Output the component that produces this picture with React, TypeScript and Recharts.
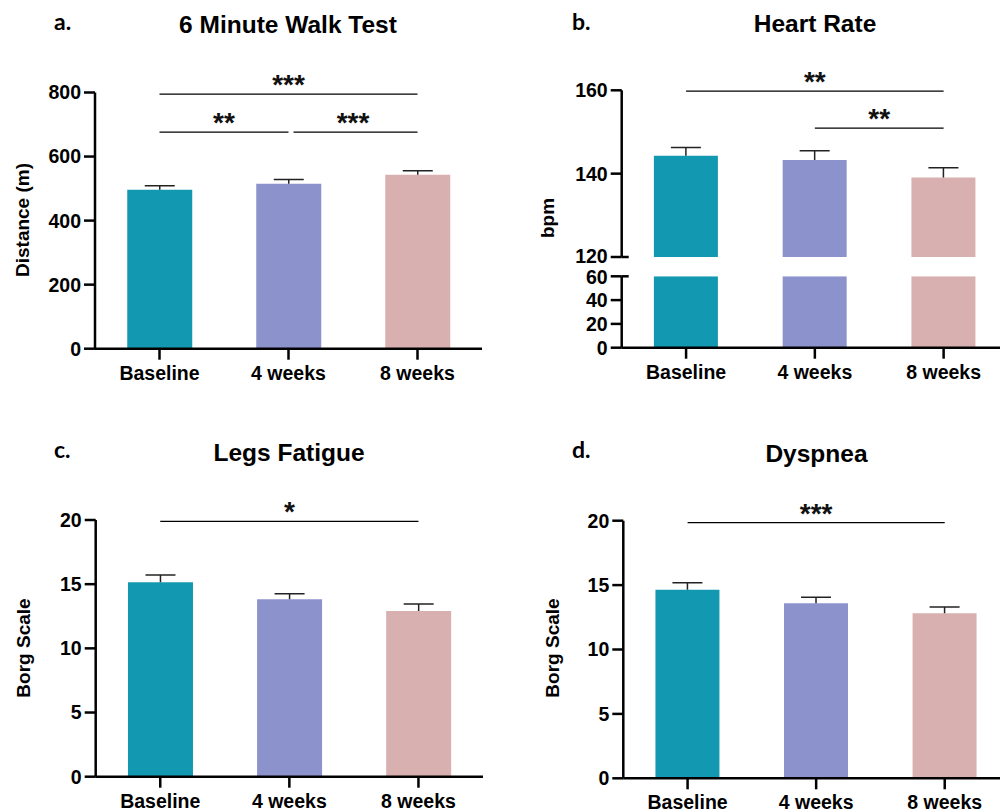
import React from 'react';
import { BarChart, Bar, XAxis, YAxis, ReferenceLine, Cell } from 'recharts';

const categories = ['Baseline', '4 weeks', '8 weeks'];
const colors = ['#1398B1', '#8B92CC', '#D8B0AF'];

const walkMean = [496, 515, 543];
const walkSem = [13, 13, 13];
const walkTicks = [0, 200, 400, 600, 800];

const hrMean = [144.3, 143.3, 139.1];
const hrSem = [2.0, 2.2, 2.3];
const hrUpperTicks = [120, 140, 160];
const hrLowerTicks = [0, 20, 40, 60];

const legsMean = [15.15, 13.82, 12.91];
const legsSem = [0.57, 0.44, 0.55];
const dyspMean = [14.64, 13.59, 12.81];
const dyspSem = [0.55, 0.46, 0.49];
const borgTicks = [0, 5, 10, 15, 20];

const walkBrackets = [
  { from: 'Baseline', to: '8 weeks', y: 795, label: '***', inset: 0 },
  { from: 'Baseline', to: '4 weeks', y: 676, label: '**', inset: 0 },
  { from: '4 weeks', to: '8 weeks', y: 676, label: '***', inset: 5 },
];
const hrBrackets = [
  { from: 'Baseline', to: '8 weeks', y: 159.8, label: '**', inset: 0 },
  { from: '4 weeks', to: '8 weeks', y: 150.9, label: '**', inset: 0 },
];
const legsBrackets = [{ from: 'Baseline', to: '8 weeks', y: 19.9, label: '*', inset: 0 }];
const dyspBrackets = [{ from: 'Baseline', to: '8 weeks', y: 19.85, label: '***', inset: 0 }];

const FONT = '"Liberation Sans", Arial, sans-serif';
const TICK_FS = 19.5;
const Y_W = 60;
const X_H = 40;

type Box = { left: number; top: number; width: number; height: number };
type Plot = { left: number; top: number; right: number; bottom: number };
type Bracket = { from: string; to: string; y: number; label: string; inset: number };

const buildData = (means: number[], sems: number[]) =>
  categories.map((name, i) => ({ name, mean: means[i], sem: sems[i] }));

const Whisker = (props: any) => {
  const { x, y, width, height } = props;
  if (x == null || y == null) return null;
  const cx = x + width / 2;
  return (
    <g stroke="#222" strokeWidth={1.5}>
      <line x1={cx} x2={cx} y1={y} y2={y + height} />
      <line x1={cx - 15} x2={cx + 15} y1={y} y2={y} />
    </g>
  );
};

const makeTick = (capValue: number | null, capShift: number, tickSize: number, tickMargin: number) => (props: any) => {
  const { x, y, payload } = props;
  const axisX = x + tickSize + tickMargin;
  const isCap = capValue !== null && payload.value === capValue;
  return (
    <g>
      <text
        x={x}
        y={y + (isCap ? capShift : 0)}
        dy="0.355em"
        textAnchor="end"
        fill="#000"
        fontSize={TICK_FS}
        fontWeight={700}
        fontFamily={FONT}
      >
        {payload.value}
      </text>
      {isCap ? <line x1={axisX} x2={axisX + 7} y1={y} y2={y} stroke="#000" strokeWidth={2.5} /> : null}
    </g>
  );
};

function marginsFor(box: Box, plot: Plot, showX: boolean) {
  return {
    left: plot.left - box.left - Y_W,
    top: plot.top - box.top,
    right: box.left + box.width - plot.right,
    bottom: box.top + box.height - plot.bottom - (showX ? X_H : 0),
  };
}

function BarPanel(props: {
  box: Box;
  plot: Plot;
  means: number[];
  sems: number[] | null;
  domain: [number, number];
  ticks: number[];
  brackets: Bracket[];
  showX: boolean;
  capValue: number | null;
  capShift: number;
}) {
  const { box, plot, means, sems, domain, ticks, brackets, showX, capValue, capShift } = props;
  const data = buildData(means, sems ?? means.map(() => 0));
  const tickSize = 11;
  const tickMargin = 3;
  return (
    <div style={{ position: 'absolute', left: box.left, top: box.top, width: box.width, height: box.height }}>
      <BarChart
        width={box.width}
        height={box.height}
        data={data}
        margin={marginsFor(box, plot, showX)}
        barCategoryGap="25%"
        style={{ overflow: 'visible' }}
      >
        <XAxis
          dataKey="name"
          hide={!showX}
          height={X_H}
          tickSize={11}
          tickMargin={6}
          axisLine={{ stroke: '#000', strokeWidth: 2.5 }}
          tickLine={{ stroke: '#000', strokeWidth: 2.5 }}
          tick={{ fill: '#000', fontSize: TICK_FS, fontWeight: 700, fontFamily: FONT }}
          interval={0}
        />
        <YAxis
          type="number"
          width={Y_W}
          domain={domain}
          ticks={ticks}
          allowDataOverflow
          tickSize={tickSize}
          tickMargin={tickMargin}
          axisLine={{ stroke: '#000', strokeWidth: 2.5 }}
          tickLine={{ stroke: '#000', strokeWidth: 2.5 }}
          tick={makeTick(capValue, capShift, tickSize, tickMargin)}
          interval={0}
        />
        <Bar dataKey="mean" stackId="s" isAnimationActive={false}>
          {data.map((d, i) => (
            <Cell key={d.name} fill={colors[i]} />
          ))}
        </Bar>
        {sems ? (
          <Bar dataKey="sem" stackId="s" isAnimationActive={false} shape={<Whisker />} fill="none" />
        ) : null}
        {brackets.map((b, i) => (
          <ReferenceLine
            key={i}
            segment={[
              { x: b.from, y: b.y },
              { x: b.to, y: b.y },
            ]}
            ifOverflow="visible"
            shape={(p: any) => (
              <line x1={p.x1 + b.inset} y1={p.y1} x2={p.x2} y2={p.y2} stroke="#000" strokeWidth={1.3} />
            )}
            label={{
              value: b.label,
              position: 'top',
              offset: 0,
              fontSize: 28,
              fontWeight: 700,
              fill: '#111',
              fontFamily: FONT,
            }}
          />
        ))}
      </BarChart>
    </div>
  );
}

const titles = [
  { text: '6 Minute Walk Test', x: 288, y: 32.5 },
  { text: 'Heart Rate', x: 815, y: 31.5 },
  { text: 'Legs Fatigue', x: 289, y: 460.5 },
  { text: 'Dyspnea', x: 816.5, y: 461.5 },
];
const letters = [
  { text: 'a.', x: 54, y: 30 },
  { text: 'b.', x: 572, y: 30 },
  { text: 'c.', x: 54, y: 458 },
  { text: 'd.', x: 572, y: 458 },
];
const yLabels = [
  { text: 'Distance (m)', x: 22, y: 220 },
  { text: 'bpm', x: 547, y: 218 },
  { text: 'Borg Scale', x: 23, y: 648 },
  { text: 'Borg Scale', x: 552, y: 648 },
];

export default function App() {
  return (
    <div
      style={{
        position: 'absolute',
        left: 0,
        top: 0,
        width: 1000,
        height: 812,
        overflow: 'hidden',
        background: '#fff',
      }}
    >
      <BarPanel
        box={{ left: 0, top: 40, width: 500, height: 380 }}
        plot={{ left: 95, top: 92.5, right: 482, bottom: 348.7 }}
        means={walkMean}
        sems={walkSem}
        domain={[0, 800]}
        ticks={walkTicks}
        brackets={walkBrackets}
        showX
        capValue={null}
        capShift={0}
      />
      <BarPanel
        box={{ left: 500, top: 40, width: 520, height: 230 }}
        plot={{ left: 621.7, top: 90.3, right: 1008, bottom: 257 }}
        means={hrMean}
        sems={hrSem}
        domain={[120, 160]}
        ticks={hrUpperTicks}
        brackets={hrBrackets}
        showX={false}
        capValue={120}
        capShift={-1}
      />
      <BarPanel
        box={{ left: 500, top: 262, width: 520, height: 158 }}
        plot={{ left: 621.7, top: 276.3, right: 1008, bottom: 347.7 }}
        means={hrMean}
        sems={null}
        domain={[0, 60]}
        ticks={hrLowerTicks}
        brackets={[]}
        showX
        capValue={60}
        capShift={1}
      />
      <BarPanel
        box={{ left: 0, top: 460, width: 500, height: 360 }}
        plot={{ left: 95.7, top: 520, right: 483, bottom: 776.7 }}
        means={legsMean}
        sems={legsSem}
        domain={[0, 20]}
        ticks={borgTicks}
        brackets={legsBrackets}
        showX
        capValue={null}
        capShift={0}
      />
      <BarPanel
        box={{ left: 500, top: 460, width: 520, height: 360 }}
        plot={{ left: 623.3, top: 520.7, right: 1009, bottom: 778.3 }}
        means={dyspMean}
        sems={dyspSem}
        domain={[0, 20]}
        ticks={borgTicks}
        brackets={dyspBrackets}
        showX
        capValue={null}
        capShift={0}
      />
      <svg width={1000} height={812} style={{ position: 'absolute', left: 0, top: 0, pointerEvents: 'none' }}>
        {titles.map((t) => (
          <text key={t.text} x={t.x} y={t.y} textAnchor="middle" fontSize={24.5} fontWeight={700} fontFamily={FONT} fill="#000">
            {t.text}
          </text>
        ))}
        {letters.map((t) => (
          <text key={t.text} x={t.x} y={t.y} fontSize={23} fontWeight={700} fontFamily="Lato, sans-serif" fill="#000">
            {t.text}
          </text>
        ))}
        {yLabels.map((t, i) => (
          <text
            key={i}
            x={t.x}
            y={t.y}
            transform={`rotate(-90 ${t.x} ${t.y})`}
            textAnchor="middle"
            dominantBaseline="central"
            fontSize={19}
            fontWeight={700}
            fontFamily={FONT}
            fill="#000"
          >
            {t.text}
          </text>
        ))}
      </svg>
    </div>
  );
}
